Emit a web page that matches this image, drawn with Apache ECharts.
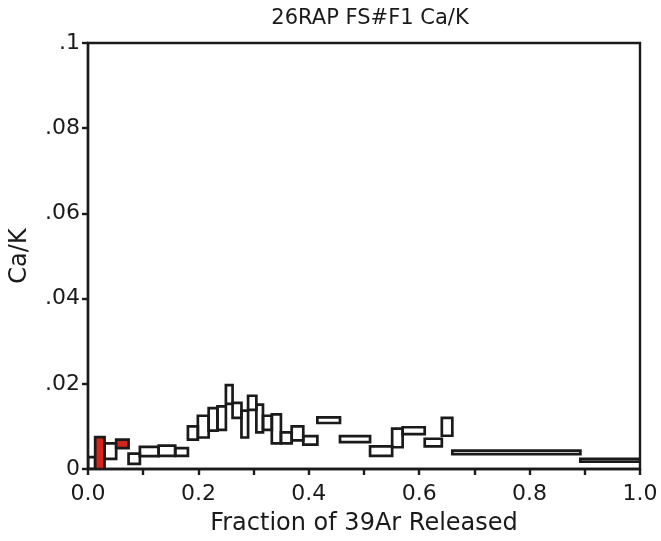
<!DOCTYPE html>
<html>
<head>
<meta charset="utf-8">
<script src="https://cdn.jsdelivr.net/npm/echarts@6/dist/echarts.min.js"></script>
<style>html,body{margin:0;padding:0;background:#fff}#c{width:661px;height:541px}</style>
</head>
<body>
<div id="c"></div>
<script>
// cumulative fraction of 39Ar released (step boundaries)
var boundaries = [0, 0.013, 0.030, 0.051, 0.0735, 0.094, 0.128, 0.158, 0.181, 0.199, 0.2186, 0.2346, 0.2498, 0.2619, 0.278, 0.290, 0.305, 0.317, 0.333, 0.3495, 0.369, 0.390, 0.4155, 0.4565, 0.511, 0.551, 0.570, 0.610, 0.641, 0.660, 0.892, 1.0];
// Ca/K lower and upper bounds (value ± error) for each step
var caKLow  = [0, 0, 0.0024, 0.0049, 0.0012, 0.0030, 0.0031, 0.0031, 0.0069, 0.0074, 0.0090, 0.0092, 0.0153, 0.0120, 0.0074, 0.0139, 0.0086, 0.0092, 0.0060, 0.0060, 0.0067, 0.0057, 0.0108, 0.0063, 0.0031, 0.0051, 0.0082, 0.0053, 0.0078, 0.0035, 0.0017];
var caKHigh = [0.0028, 0.0075, 0.0060, 0.0069, 0.0036, 0.0052, 0.0055, 0.0049, 0.0100, 0.0125, 0.0143, 0.0147, 0.0197, 0.0155, 0.0137, 0.0172, 0.0151, 0.0125, 0.0128, 0.0086, 0.0100, 0.0077, 0.0121, 0.0077, 0.0053, 0.0095, 0.0098, 0.0071, 0.0120, 0.0043, 0.0024];
// steps highlighted in red
var highlighted = [false, true, false, true, false, false, false, false, false, false, false, false, false, false, false, false, false, false, false, false, false, false, false, false, false, false, false, false, false, false, false];
var xTickLabels = ['0.0', '0.2', '0.4', '0.6', '0.8', '1.0'];
var yTickLabels = ['0', '.02', '.04', '.06', '.08', '.1'];

var data = [];
for (var i = 0; i < caKLow.length; i++) {
  data.push([boundaries[i], boundaries[i + 1], caKLow[i], caKHigh[i], highlighted[i] ? 1 : 0]);
}

var chart = echarts.init(document.getElementById('c'));
var font = 'DejaVu Sans, sans-serif';
chart.setOption({
  animation: false,
  backgroundColor: '#fff',
  title: {
    text: '26RAP FS#F1 Ca/K',
    left: 365, top: 3, textAlign: 'center',
    textStyle: { fontFamily: font, fontSize: 21, fontWeight: 'normal', color: '#1a1a1a' }
  },
  grid: { left: 88, right: 21, top: 43, bottom: 71, show: true, borderColor: '#1a1a1a', borderWidth: 2.4, backgroundColor: 'transparent' },
  xAxis: {
    type: 'value', min: 0, max: 1, interval: 0.1,
    name: 'Fraction of 39Ar Released', nameLocation: 'middle', nameGap: 43,
    nameTextStyle: { fontFamily: font, fontSize: 24, color: '#1a1a1a' },
    axisLine: { lineStyle: { color: '#1a1a1a', width: 2.4 } },
    axisTick: { show: true, inside: false, length: 6, lineStyle: { color: '#1a1a1a', width: 2.4 } },
    axisLabel: {
      fontFamily: font, fontSize: 22, color: '#1a1a1a', margin: 14,
      formatter: function (v) {
        var k = Math.round(v * 10);
        return k % 2 === 0 ? xTickLabels[k / 2] : '';
      }
    },
    splitLine: { show: false }
  },
  yAxis: {
    type: 'value', min: 0, max: 0.1, interval: 0.02,
    name: 'Ca/K', nameLocation: 'middle', nameGap: 56,
    nameTextStyle: { fontFamily: font, fontSize: 24, color: '#1a1a1a' },
    axisLine: { lineStyle: { color: '#1a1a1a', width: 2.4 } },
    axisTick: { show: true, inside: false, length: 6, lineStyle: { color: '#1a1a1a', width: 2.4 } },
    axisLabel: {
      fontFamily: font, fontSize: 22, color: '#1a1a1a', margin: 8,
      formatter: function (v) { return yTickLabels[Math.round(v / 0.02)]; }
    },
    splitLine: { show: false }
  },
  series: [{
    type: 'custom',
    clip: true,
    data: data,
    encode: { x: [0, 1], y: [2, 3] },
    renderItem: function (params, api) {
      var p0 = api.coord([api.value(0), api.value(3)]);
      var p1 = api.coord([api.value(1), api.value(2)]);
      var red = api.value(4) === 1;
      return {
        type: 'rect',
        shape: { x: p0[0], y: p0[1], width: p1[0] - p0[0], height: p1[1] - p0[1] },
        style: { fill: red ? '#d4251c' : 'rgba(255,255,255,0)', stroke: '#1a1a1a', lineWidth: 2.7 }
      };
    }
  }]
});
</script>
</body>
</html>
